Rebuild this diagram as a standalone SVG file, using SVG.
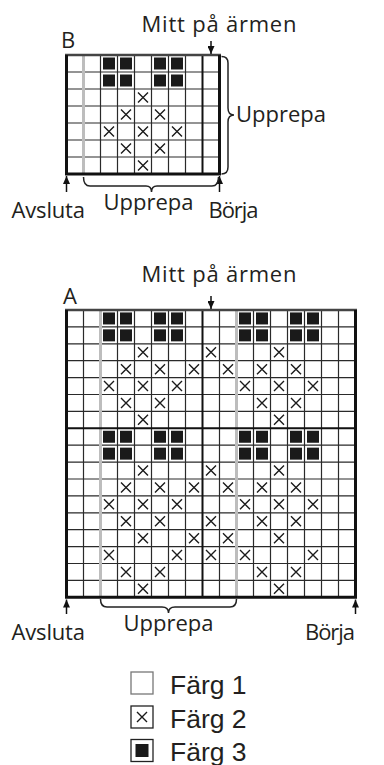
<svg xmlns="http://www.w3.org/2000/svg" xmlns:xlink="http://www.w3.org/1999/xlink" width="384" height="765" viewBox="0 0 384 765">
<style>
.lbl{font-family:"Open Sans","Noto Sans",sans-serif;font-size:22px;fill:#231f20}
.leg{font-family:"Liberation Sans",Arial,sans-serif;font-size:26.5px;fill:#231f20}
.thin{stroke:#2a2a2a;stroke-width:1.2;fill:none}
.rep{stroke:#bdbdbd;stroke-width:3;fill:none}
.mid{stroke:#111;stroke-width:2;fill:none}
.top{stroke:#444;stroke-width:2.5;fill:none}
.bord{stroke:#111;stroke-width:3;fill:none}
.arr{stroke:#111;stroke-width:1.5;fill:none}
.brace{stroke:#222;stroke-width:1.5;fill:none}
</style>
<defs>
<marker id="ah" markerUnits="userSpaceOnUse" markerWidth="8" markerHeight="7" refX="8" refY="3.5" orient="auto"><path d="M0,0L8,3.5L0,7z" fill="#111"/></marker>
<path id="x" d="M-5,-5L5,5M5,-5L-5,5" stroke="#1a1a1a" stroke-width="1.4" fill="none"/>
<rect id="s" x="-6" y="-6" width="12" height="12" fill="#1a1a1a"/>
</defs>
<rect width="384" height="765" fill="#fff"/>

<g id="chart-b">
<path class="thin" d="M100.5,55V174M117.5,55V174M134.5,55V174M151.5,55V174M168.5,55V174M185.5,55V174M66.5,72H219.5M66.5,89H219.5M66.5,106H219.5M66.5,123H219.5M66.5,140H219.5M66.5,157H219.5"/>
<path class="rep" d="M83.5,56V173"/>
<path class="mid" d="M202.5,55V174"/>
<g>
<use href="#s" x="109" y="63.5"/><use href="#s" x="126" y="63.5"/><use href="#s" x="160" y="63.5"/><use href="#s" x="177" y="63.5"/>
<use href="#s" x="109" y="80.5"/><use href="#s" x="126" y="80.5"/><use href="#s" x="160" y="80.5"/><use href="#s" x="177" y="80.5"/>
<use href="#x" x="143" y="97.5"/>
<use href="#x" x="126" y="114.5"/><use href="#x" x="160" y="114.5"/>
<use href="#x" x="109" y="131.5"/><use href="#x" x="143" y="131.5"/><use href="#x" x="177" y="131.5"/>
<use href="#x" x="126" y="148.5"/><use href="#x" x="160" y="148.5"/>
<use href="#x" x="143" y="165.5"/>
</g>
<path class="top" d="M65,55H221"/>
<path class="bord" d="M66.5,55V175.5M219.5,55V175.5M65,174H221"/>
<text class="lbl" x="61" y="47.5">B</text>
</g>

<g id="chart-a">
<path class="thin" d="M83.5,310V597.3M117.5,310V597.3M134.5,310V597.3M151.5,310V597.3M168.5,310V597.3M185.5,310V597.3M219.5,310V597.3M253.5,310V597.3M270.5,310V597.3M287.5,310V597.3M304.5,310V597.3M321.5,310V597.3M338.5,310V597.3M66.5,326.9H355.5M66.5,343.8H355.5M66.5,360.7H355.5M66.5,377.6H355.5M66.5,394.5H355.5M66.5,411.4H355.5M66.5,445.2H355.5M66.5,462.1H355.5M66.5,479H355.5M66.5,495.9H355.5M66.5,512.8H355.5M66.5,529.7H355.5M66.5,546.6H355.5M66.5,563.5H355.5M66.5,580.4H355.5"/>
<path class="rep" d="M100.5,311V596M236.5,311V596"/>
<path class="mid" d="M202.5,310V597.3M66.5,428.3H355.5"/>
<g>
<use href="#s" x="109" y="318.45"/><use href="#s" x="126" y="318.45"/><use href="#s" x="160" y="318.45"/><use href="#s" x="177" y="318.45"/><use href="#s" x="245" y="318.45"/><use href="#s" x="262" y="318.45"/><use href="#s" x="296" y="318.45"/><use href="#s" x="313" y="318.45"/>
<use href="#s" x="109" y="335.35"/><use href="#s" x="126" y="335.35"/><use href="#s" x="160" y="335.35"/><use href="#s" x="177" y="335.35"/><use href="#s" x="245" y="335.35"/><use href="#s" x="262" y="335.35"/><use href="#s" x="296" y="335.35"/><use href="#s" x="313" y="335.35"/>
<use href="#s" x="109" y="436.75"/><use href="#s" x="126" y="436.75"/><use href="#s" x="160" y="436.75"/><use href="#s" x="177" y="436.75"/><use href="#s" x="245" y="436.75"/><use href="#s" x="262" y="436.75"/><use href="#s" x="296" y="436.75"/><use href="#s" x="313" y="436.75"/>
<use href="#s" x="109" y="453.65"/><use href="#s" x="126" y="453.65"/><use href="#s" x="160" y="453.65"/><use href="#s" x="177" y="453.65"/><use href="#s" x="245" y="453.65"/><use href="#s" x="262" y="453.65"/><use href="#s" x="296" y="453.65"/><use href="#s" x="313" y="453.65"/>

<use href="#x" x="143" y="352.25"/><use href="#x" x="211" y="352.25"/><use href="#x" x="279" y="352.25"/>
<use href="#x" x="126" y="369.15"/><use href="#x" x="160" y="369.15"/><use href="#x" x="194" y="369.15"/><use href="#x" x="228" y="369.15"/><use href="#x" x="262" y="369.15"/><use href="#x" x="296" y="369.15"/>
<use href="#x" x="109" y="386.05"/><use href="#x" x="143" y="386.05"/><use href="#x" x="177" y="386.05"/><use href="#x" x="245" y="386.05"/><use href="#x" x="279" y="386.05"/><use href="#x" x="313" y="386.05"/>
<use href="#x" x="126" y="402.95"/><use href="#x" x="160" y="402.95"/><use href="#x" x="262" y="402.95"/><use href="#x" x="296" y="402.95"/>
<use href="#x" x="143" y="419.85"/><use href="#x" x="279" y="419.85"/>

<use href="#x" x="143" y="470.55"/><use href="#x" x="211" y="470.55"/><use href="#x" x="279" y="470.55"/>
<use href="#x" x="126" y="487.45"/><use href="#x" x="160" y="487.45"/><use href="#x" x="194" y="487.45"/><use href="#x" x="228" y="487.45"/><use href="#x" x="262" y="487.45"/><use href="#x" x="296" y="487.45"/>
<use href="#x" x="109" y="504.35"/><use href="#x" x="143" y="504.35"/><use href="#x" x="177" y="504.35"/><use href="#x" x="245" y="504.35"/><use href="#x" x="279" y="504.35"/><use href="#x" x="313" y="504.35"/>
<use href="#x" x="126" y="521.25"/><use href="#x" x="160" y="521.25"/><use href="#x" x="211" y="521.25"/><use href="#x" x="262" y="521.25"/><use href="#x" x="296" y="521.25"/>
<use href="#x" x="143" y="538.15"/><use href="#x" x="194" y="538.15"/><use href="#x" x="228" y="538.15"/><use href="#x" x="279" y="538.15"/>
<use href="#x" x="109" y="555.05"/><use href="#x" x="177" y="555.05"/><use href="#x" x="211" y="555.05"/><use href="#x" x="245" y="555.05"/><use href="#x" x="313" y="555.05"/>
<use href="#x" x="126" y="571.95"/><use href="#x" x="160" y="571.95"/><use href="#x" x="262" y="571.95"/><use href="#x" x="296" y="571.95"/>
<use href="#x" x="143" y="588.85"/><use href="#x" x="279" y="588.85"/>
</g>
<path class="top" d="M65,310H357"/>
<path class="bord" d="M66.5,310V598.8M355.5,310V598.8M65,597.3H357"/>
<text class="lbl" x="63" y="304">A</text>
</g>

<g id="connectors">
<path class="arr" marker-end="url(#ah)" d="M211,41V54"/>
<path class="arr" marker-end="url(#ah)" d="M66.5,192V176"/>
<path class="arr" marker-end="url(#ah)" d="M219.5,192V176"/>
<path class="brace" d="M83.5,177Q83.5,186 90,186H146Q151.5,186 151.5,192Q151.5,186 157,186H212Q218.5,186 218.5,177"/>
<path class="brace" d="M221.5,56.5Q228,56.5 228,63V108Q228,115 234,115Q228,115 228,122V167Q228,174 221.5,174"/>
<path class="arr" marker-end="url(#ah)" d="M211,296V309"/>
<path class="arr" marker-end="url(#ah)" d="M66.5,614V599.5"/>
<path class="arr" marker-end="url(#ah)" d="M355.5,614V599.5"/>
<path class="brace" d="M100.5,599Q100.5,607 107,607H162Q168.5,607 168.5,613Q168.5,607 175,607H230Q236.5,607 236.5,599"/>
</g>

<g id="labels">
<text class="lbl" x="141.5" y="31.7" textLength="155" lengthAdjust="spacing">Mitt på ärmen</text>
<text class="lbl" x="236" y="121.5" textLength="90" lengthAdjust="spacing">Upprepa</text>
<text class="lbl" x="11.5" y="217.7" textLength="73.5" lengthAdjust="spacing">Avsluta</text>
<text class="lbl" x="103.5" y="209.5" textLength="90" lengthAdjust="spacing">Upprepa</text>
<text class="lbl" x="208.5" y="217.7" textLength="50" lengthAdjust="spacing">Börja</text>
<text class="lbl" x="141.5" y="281.5" textLength="155" lengthAdjust="spacing">Mitt på ärmen</text>
<text class="lbl" x="11.5" y="639.5" textLength="73.5" lengthAdjust="spacing">Avsluta</text>
<text class="lbl" x="123.5" y="631" textLength="90" lengthAdjust="spacing">Upprepa</text>
<text class="lbl" x="305" y="639.5" textLength="50" lengthAdjust="spacing">Börja</text>
</g>

<g id="legend">
<g id="leg1"><rect x="131" y="672" width="22" height="22" fill="#fff" stroke="#777" stroke-width="1.3"/><text class="leg" x="170" y="694">Färg 1</text></g>
<g id="leg2"><rect x="131" y="706" width="22" height="22" fill="#fff" stroke="#222" stroke-width="1.3"/><path d="M137,712L147,722M147,712L137,722" stroke="#1a1a1a" stroke-width="1.4"/><text class="leg" x="170" y="727.5">Färg 2</text></g>
<g id="leg3"><rect x="131" y="739.5" width="22" height="22" fill="#fff" stroke="#222" stroke-width="1.3"/><rect x="135.5" y="744" width="13" height="13" fill="#1a1a1a"/><text class="leg" x="170" y="760.5">Färg 3</text></g>
</g>
</svg>
